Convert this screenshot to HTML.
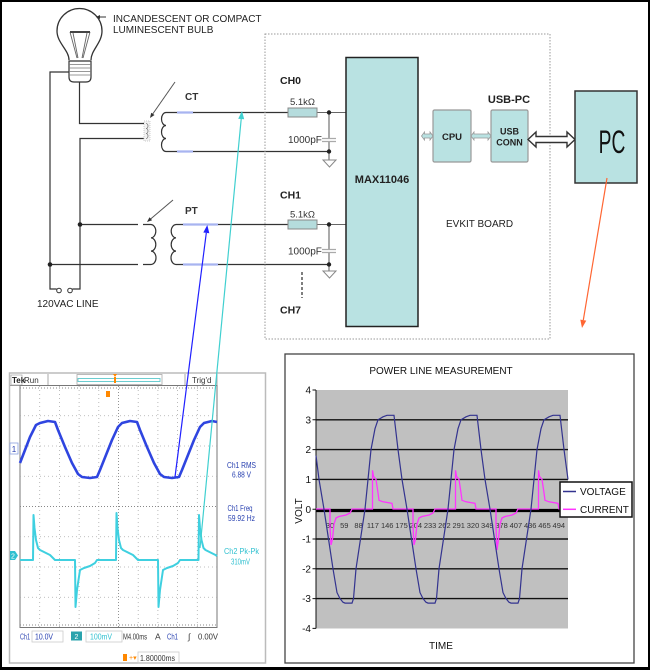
<!DOCTYPE html>
<html><head><meta charset="utf-8"><style>
html,body{margin:0;padding:0;background:#fff;}
svg{display:block;}
text{font-family:"Liberation Sans",Arial,sans-serif;}
</style></head><body>
<svg width="650" height="670" viewBox="0 0 650 670" xmlns="http://www.w3.org/2000/svg">
<rect width="650" height="670" fill="#fff"/>

<!-- ===== Bulb ===== -->
<g fill="none" stroke="#333" stroke-width="1.3">
<path d="M69,60 C69,50 57,43 57,31 A22.5,22.5 0 1 1 102,31 C102,43 91,50 91,60"/>
</g>
<path d="M70,32 L77,58 M90,32 L83,58 M73,33 L78,58 M87,33 L82,58" stroke="#666" stroke-width="0.9" fill="none"/>
<path d="M70,32 H90" stroke="#444" stroke-width="2"/>
<path d="M69,61 H91 V77 Q91,82 86,82 H74 Q69,82 69,77 Z" fill="#fff" stroke="#333" stroke-width="1.2"/>
<path d="M69,64.5 H91 M69,68 H91 M69,71.5 H91 M69,75 H91" stroke="#777" stroke-width="0.8"/>
<path d="M99,17 H106" stroke="#333" stroke-width="1"/>
<path d="M96,17 L100,15 L100,19 Z" fill="#333"/>
<text x="113" y="22" font-size="10" fill="#222">INCANDESCENT OR COMPACT</text>
<text x="113" y="33" font-size="10" fill="#222">LUMINESCENT BULB</text>

<!-- ===== Line wiring ===== -->
<g fill="none" stroke="#333" stroke-width="1.2">
<path d="M69,72 H50 V289 H56.7"/>
<path d="M72.3,289 H80 V138.5 H144"/>
<path d="M79.5,82 V123.5 H144"/>
<path d="M80,224.5 H138"/>
<path d="M50,264.5 H138"/>
</g>
<circle cx="59" cy="290.5" r="2.3" fill="#fff" stroke="#333" stroke-width="1"/>
<circle cx="70" cy="290.5" r="2.3" fill="#fff" stroke="#333" stroke-width="1"/>
<circle cx="80" cy="224.5" r="2.3" fill="#222"/>
<circle cx="50" cy="264.5" r="2.3" fill="#222"/>
<text x="37" y="307" font-size="10" fill="#222">120VAC LINE</text>

<!-- CT -->
<rect x="144" y="121" width="6" height="20" fill="#f2f2f2" stroke="#bbb" stroke-width="0.7" stroke-dasharray="1,1"/>
<path d="M146,123.5 a2,2.5 0 0 1 0,5 a2,2.5 0 0 1 0,5 a2,2.5 0 0 1 0,5" fill="none" stroke="#777" stroke-width="0.8"/>
<path d="M166,112.5 a4.5,6.5 0 0 0 0,13 a4.5,6.5 0 0 0 0,13 a4.5,6.5 0 0 0 0,13" fill="none" stroke="#333" stroke-width="1.2"/>
<path d="M166,112.5 H288 M166,151.5 H329" fill="none" stroke="#333" stroke-width="1.2"/>
<path d="M177,112.5 H193 M177,151.5 H193" stroke="#a8b4f0" stroke-width="2.2"/>
<path d="M175,82 L152,115" stroke="#555" stroke-width="1"/>
<path d="M150,118 L154.5,115 L151.2,112.8 Z" fill="#333"/>
<text x="185" y="100" font-size="10" font-weight="bold" fill="#333">CT</text>

<!-- PT -->
<path d="M143,224.5 H151 a5,6.67 0 0 1 0,13.33 a5,6.67 0 0 1 0,13.33 a5,6.67 0 0 1 0,13.34 H143" fill="none" stroke="#333" stroke-width="1.2"/>
<path d="M176,224.5 a5,6.67 0 0 0 0,13.33 a5,6.67 0 0 0 0,13.33 a5,6.67 0 0 0 0,13.34" fill="none" stroke="#333" stroke-width="1.2"/>
<path d="M176,224.5 H288 M176,264.5 H329" fill="none" stroke="#333" stroke-width="1.2"/>
<path d="M183,224.5 H218 M183,264.5 H218" stroke="#a8b4f0" stroke-width="2.2"/>
<path d="M173,200 L150,219.5" stroke="#555" stroke-width="1"/>
<path d="M147,222 L152.1,220.3 L149.5,217.3 Z" fill="#333"/>
<text x="185" y="214" font-size="10" font-weight="bold" fill="#333">PT</text>

<!-- ===== EVKIT board ===== -->
<rect x="265" y="34" width="285" height="305" fill="none" stroke="#999" stroke-width="1" stroke-dasharray="1.5,1.5"/>

<text x="280" y="84" font-size="10.5" font-weight="bold" fill="#222">CH0</text>
<text x="280" y="198.5" font-size="10.5" font-weight="bold" fill="#222">CH1</text>
<text x="280" y="313.5" font-size="10.5" font-weight="bold" fill="#222">CH7</text>

<g stroke="#666" stroke-width="1.1" fill="none">
<path d="M317,112.5 H346 M329,112.5 V138.5 M329,141.5 V160"/>
<path d="M317,224.5 H346 M329,224.5 V249.5 M329,252.5 V271"/>
</g>
<path d="M322,138.5 H336 M322,141.5 H336 M322,249.5 H336 M322,252.5 H336" stroke="#aaa" stroke-width="1.2"/>
<path d="M323,160 L336,160 L329.5,167 Z M323,271 L336,271 L329.5,278 Z" fill="#fff" stroke="#888" stroke-width="1"/>
<rect x="288" y="108" width="29" height="9" fill="#b5dcdd" stroke="#888" stroke-width="1"/>
<rect x="288" y="220" width="29" height="9" fill="#b5dcdd" stroke="#888" stroke-width="1"/>
<circle cx="329" cy="112.5" r="2.2" fill="#222"/>
<circle cx="329" cy="151.5" r="2.2" fill="#222"/>
<circle cx="329" cy="224.5" r="2.2" fill="#222"/>
<circle cx="329" cy="264.5" r="2.2" fill="#222"/>
<text x="302.5" y="105" font-size="9.5" fill="#333" text-anchor="middle">5.1kΩ</text>
<text x="302.5" y="217.5" font-size="9.5" fill="#333" text-anchor="middle">5.1kΩ</text>
<text x="288" y="143" font-size="10" fill="#333">1000pF</text>
<text x="288" y="254.5" font-size="10" fill="#333">1000pF</text>
<path d="M302,272 V298" stroke="#555" stroke-width="1.5" stroke-dasharray="3,2"/>

<rect x="346" y="57.5" width="72" height="269" fill="#b9e2e2" stroke="#222" stroke-width="1.5"/>
<text x="382" y="183" font-size="11" font-weight="bold" fill="#222" text-anchor="middle">MAX11046</text>

<rect x="433" y="110" width="38" height="52" rx="1.5" fill="#b9e2e2" stroke="#999" stroke-width="1.2"/>
<text x="452" y="140" font-size="9.5" font-weight="bold" fill="#222" text-anchor="middle">CPU</text>
<rect x="491" y="110" width="37" height="52" rx="1.5" fill="#b9e2e2" stroke="#999" stroke-width="1.2"/>
<text x="509.5" y="134.5" font-size="9" font-weight="bold" fill="#222" text-anchor="middle">USB</text>
<text x="509.5" y="145.5" font-size="9" font-weight="bold" fill="#222" text-anchor="middle">CONN</text>
<text x="509" y="103" font-size="11" font-weight="bold" fill="#222" text-anchor="middle">USB-PC</text>

<path d="M421.5,136 L424.5,132 V134 H430 V132 L433,136 L430,140 V138 H424.5 V140 Z" fill="#b9e2e2" stroke="#999" stroke-width="0.8"/>
<path d="M471,136 L474,132 V134 H488 V132 L491,136 L488,140 V138 H474 V140 Z" fill="#b9e2e2" stroke="#999" stroke-width="0.8"/>
<path d="M528,139.5 L536,132 V136.5 H567 V132 L575,139.5 L567,147 V142.5 H536 V147 Z" fill="#fff" stroke="#333" stroke-width="1.4"/>

<rect x="575" y="91" width="62" height="92" fill="#b9e2e2" stroke="#333" stroke-width="1.5"/>
<text transform="translate(612,153) scale(0.6,1)" x="0" y="0" font-size="32" fill="#111" text-anchor="middle">PC</text>

<text x="446" y="227" font-size="10" fill="#222">EVKIT BOARD</text>

<!-- ===== Oscilloscope ===== -->
<rect x="9.5" y="373" width="256" height="290" fill="#fff" stroke="#bbb" stroke-width="1.5"/>
<path d="M10,385.5 H217" stroke="#999" stroke-width="1"/>
<path d="M48,374 V385 M185,374 V385 M217,374 V385" stroke="#aaa" stroke-width="1"/>
<rect x="77" y="374.5" width="85" height="10" fill="none" stroke="#aaa" stroke-width="0.8"/>
<rect x="78" y="378.5" width="82" height="3" fill="none" stroke="#5cc8cc" stroke-width="0.9"/>
<path d="M113,374 L117,374 L115,377 Z" fill="#f80"/>
<rect x="114" y="377" width="2" height="6" fill="#f80"/>
<rect x="11" y="375" width="11" height="10" fill="none" stroke="#999" stroke-width="0.6"/>
<text x="12" y="383" font-size="8" font-weight="bold" fill="#222">Tek</text>
<text x="24" y="383" font-size="8" fill="#333">Run</text>
<text x="192" y="383" font-size="8" fill="#333">Trig'd</text>

<rect x="20" y="385.5" width="197" height="242" fill="#fff" stroke="#777" stroke-width="1"/>
<g stroke="#aaa" stroke-width="0.8" stroke-dasharray="1,3">
<path d="M39.7,386 V627 M59.4,386 V627 M79.1,386 V627 M98.8,386 V627 M138.2,386 V627 M157.9,386 V627 M177.6,386 V627 M197.3,386 V627"/>
<path d="M20,415.75 H217 M20,446 H217 M20,476.25 H217 M20,536.75 H217 M20,567 H217 M20,597.25 H217"/>
</g>
<g stroke="#888" stroke-width="0.9" stroke-dasharray="1,2">
<path d="M118.5,386 V627 M20,506.5 H217"/>
<path d="M20,388 H217 M20,625 H217"/>
</g>
<rect x="106" y="391" width="4" height="6" fill="#f80"/>
<rect x="10" y="443" width="8" height="11" fill="#fff" stroke="#8aa0e0" stroke-width="0.8"/>
<text x="14" y="452" font-size="8" fill="#2840b0" text-anchor="middle">1</text>
<path d="M10,551 H15 L18,555.5 L15,560 H10 Z" fill="#30c0d0"/>
<text x="13" y="558.5" font-size="7" fill="#fff" text-anchor="middle">2</text>

<polyline fill="none" stroke="#2f45e0" stroke-width="2.6" stroke-linejoin="round" points="20,463 25,450 30,437 36,425 40,423 48,421 55,422 58,430 65,447 72,463 78,474 82,477 90,478 97,477 100,470 106,455 112,440 118,427 122,423 130,421 137,422 140,430 147,447 154,463 160,474 164,477 172,478 179,477 182,470 188,455 194,440 200,427 204,423 212,421 217,422"/>
<polyline fill="none" stroke="#3fd0e0" stroke-width="2" stroke-linejoin="round" points="20,560 33,560 33.5,515 34.5,528 36,540 38,548 40,550 42,551 50,555 54,559 55,560 75,560 75.5,607 77,590 80,570 84,568 90,566 95,563 97,560 116,560 116.5,513 117.5,528 119,540 121,548 123,550 125,551 133,555 137,559 138,560 158,560 158.5,607 160,590 163,570 167,568 173,566 178,563 180,560 198.5,560 199,515 200,528 201.5,540 203.5,548 205.5,550 207.5,551 215.5,555 217,556"/>

<text x="241.5" y="468" font-size="8.5" fill="#2840b0" text-anchor="middle" textLength="29" lengthAdjust="spacingAndGlyphs">Ch1 RMS</text>
<text x="241.5" y="477.5" font-size="8.5" fill="#2840b0" text-anchor="middle" textLength="19" lengthAdjust="spacingAndGlyphs">6.88 V</text>
<text x="240" y="511" font-size="8.5" fill="#2840b0" text-anchor="middle" textLength="25" lengthAdjust="spacingAndGlyphs">Ch1 Freq</text>
<text x="241.5" y="521" font-size="8.5" fill="#2840b0" text-anchor="middle" textLength="27" lengthAdjust="spacingAndGlyphs">59.92 Hz</text>
<text x="241.5" y="554" font-size="8.5" fill="#30c0d0" text-anchor="middle" textLength="35" lengthAdjust="spacingAndGlyphs">Ch2 Pk-Pk</text>
<text x="240.5" y="564.5" font-size="8.5" fill="#30c0d0" text-anchor="middle" textLength="19" lengthAdjust="spacingAndGlyphs">310mV</text>

<rect x="32" y="631" width="31" height="11" fill="none" stroke="#ccc" stroke-width="0.8"/>
<rect x="86" y="631" width="36" height="11" fill="none" stroke="#ccc" stroke-width="0.8"/>
<rect x="71" y="631.5" width="11" height="9" fill="#2aa3ad"/>
<text x="76.5" y="639" font-size="7" fill="#fff" text-anchor="middle">2</text>
<text x="20" y="639.5" font-size="8.5" fill="#2840b0" textLength="10" lengthAdjust="spacingAndGlyphs">Ch1</text>
<text x="35" y="639.5" font-size="8.5" fill="#2840b0" textLength="18" lengthAdjust="spacingAndGlyphs">10.0V</text>
<text x="90" y="639.5" font-size="8.5" fill="#30c0d0" textLength="22" lengthAdjust="spacingAndGlyphs">100mV</text>
<text x="123" y="639.5" font-size="8.5" fill="#333" textLength="24" lengthAdjust="spacingAndGlyphs">M4.00ms</text>
<text x="155" y="639.5" font-size="8.5" fill="#333">A</text>
<text x="167" y="639.5" font-size="8.5" fill="#2840b0" textLength="11" lengthAdjust="spacingAndGlyphs">Ch1</text>
<text x="188" y="639.5" font-size="8.5" fill="#333">∫</text>
<text x="198" y="639.5" font-size="8.5" fill="#333" textLength="20" lengthAdjust="spacingAndGlyphs">0.00V</text>
<rect x="123" y="654" width="4" height="7" fill="#f80"/>
<text x="129" y="660" font-size="7" fill="#f80">+▾</text>
<rect x="138" y="652" width="41" height="11" fill="none" stroke="#ccc" stroke-width="0.8"/>
<text x="140" y="661" font-size="8.5" fill="#333" textLength="35" lengthAdjust="spacingAndGlyphs">1.80000ms</text>

<!-- ===== Chart ===== -->
<rect x="285" y="354" width="349" height="309" fill="#fff" stroke="#444" stroke-width="1.3"/>
<text x="441" y="374" font-size="10" fill="#111" text-anchor="middle">POWER LINE MEASUREMENT</text>
<rect x="316" y="390" width="252" height="238.5" fill="#c0c0c0"/>
<path d="M316,419.8 H568 M316,449.6 H568 M316,479.4 H568 M316,539 H568 M316,568.8 H568 M316,598.6 H568" stroke="#111" stroke-width="1.4"/>
<path d="M316,510.5 H568" stroke="#000" stroke-width="3.2"/>
<path d="M316,390 V628.5" stroke="#111" stroke-width="1"/>
<path d="M312.5,390 H316 M312.5,419.8 H316 M312.5,449.6 H316 M312.5,479.4 H316 M312.5,509.2 H316 M312.5,539 H316 M312.5,568.8 H316 M312.5,598.6 H316 M312.5,628.4 H316" stroke="#111" stroke-width="1"/>
<g font-size="10" fill="#111" text-anchor="end">
<text x="311" y="393.5">4</text>
<text x="311" y="423.3">3</text>
<text x="311" y="453.1">2</text>
<text x="311" y="482.9">1</text>
<text x="311" y="513">0</text>
<text x="311" y="542.5">-1</text>
<text x="311" y="572.3">-2</text>
<text x="311" y="602.1">-3</text>
<text x="311" y="631.9">-4</text>
</g>
<g font-size="7.5" fill="#333" text-anchor="middle">
<text x="330" y="528">30</text><text x="344.3" y="528">59</text><text x="358.6" y="528">88</text><text x="372.9" y="528">117</text><text x="387.2" y="528">146</text><text x="401.5" y="528">175</text><text x="415.8" y="528">204</text><text x="430.1" y="528">233</text><text x="444.4" y="528">262</text><text x="458.7" y="528">291</text><text x="473" y="528">320</text><text x="487.3" y="528">349</text><text x="501.6" y="528">378</text><text x="515.9" y="528">407</text><text x="530.2" y="528">436</text><text x="544.5" y="528">465</text><text x="558.8" y="528">494</text>
</g>

<polyline fill="none" stroke="#ff33ff" stroke-width="1.3" points="316,509 330,509 330,527 331,545 332.5,539 334,524 336,518 339,516.5 346,515 350,513 352,509 372.5,509 372.5,470.3 373.5,476.4 376,479.4 378,492.8 379,500.3 383,501.8 392,503.3 393,509 413,509 413,527 414,545 415.5,539 417,524 419,518 422,516.5 429,515 433,513 435,509 455.5,509 455.5,470.3 456.5,476.4 459,479.4 461,492.8 462,500.3 466,501.8 475,503.3 476,509 496,509 496,527 497,550 498.5,539 500,524 502,518 505,516.5 512,515 516,513 518,509 538.5,509 538.5,470.3 539.5,476.4 542,479.4 544,492.8 545,500.3 549,501.8 558,503.3 559,509 568,509"/>
<polyline fill="none" stroke="#33338f" stroke-width="1.2" points="316,455.6 319,479.4 324,509.2 328.5,539 333,568.8 337,592.6 340,598.6 343,602.2 345,603.1 352,603.1 353.5,598.6 356,568.8 360.5,539 365,509.2 368,479.4 371,449.6 375,428.7 378,419.8 383,416.8 387,415.3 394,415.3 398,449.6 402,479.4 407,509.2 411.5,539 416,568.8 420,592.6 423,598.6 426,602.2 428,603.1 435,603.1 436.5,598.6 439,568.8 443.5,539 448,509.2 451,479.4 454,449.6 458,428.7 461,419.8 466,416.8 470,415.3 477,415.3 481,449.6 485,479.4 490,509.2 494.5,539 499,568.8 503,592.6 506,598.6 509,602.2 511,603.1 518,603.1 519.5,598.6 522,568.8 526.5,539 531,509.2 534,479.4 537,449.6 541,428.7 544,419.8 549,416.8 553,415.3 560,415.3 564,449.6 568,479.4"/>

<rect x="560" y="482" width="72" height="35" fill="#fff" stroke="#111" stroke-width="1.5"/>
<path d="M563,491.5 H576" stroke="#33338f" stroke-width="1.5"/>
<path d="M563,509.3 H576" stroke="#ff33ff" stroke-width="1.5"/>
<text x="580" y="495" font-size="10" fill="#111">VOLTAGE</text>
<text x="580" y="513" font-size="10" fill="#111">CURRENT</text>

<text transform="translate(302,511) rotate(-90)" x="0" y="0" font-size="10" fill="#111" text-anchor="middle">VOLT</text>
<text x="441" y="649" font-size="10" fill="#111" text-anchor="middle">TIME</text>

<!-- ===== Annotation arrows ===== -->
<path d="M200,548 L241.2,119" stroke="#40d0d0" stroke-width="1.2"/>
<path d="M242,111 L244.2,119.3 L238.2,118.7 Z" fill="#40d0d0"/>
<path d="M175,477 L206.3,232.9" stroke="#2020ff" stroke-width="1.2"/>
<path d="M207.3,225 L209.3,233.3 L203.3,232.5 Z" fill="#2020ff"/>
<path d="M607,178 L583.3,320.1" stroke="#ff6633" stroke-width="1.2"/>
<path d="M582,328 L586.3,320.6 L580.3,319.6 Z" fill="#ff6633"/>

<!-- outer border -->
<rect x="0" y="0" width="650" height="2" fill="#000"/>
<rect x="0" y="0" width="2" height="670" fill="#000"/>
<rect x="648" y="0" width="2" height="670" fill="#000"/>
<rect x="0" y="667" width="650" height="3" fill="#000"/>
</svg>
</body></html>
